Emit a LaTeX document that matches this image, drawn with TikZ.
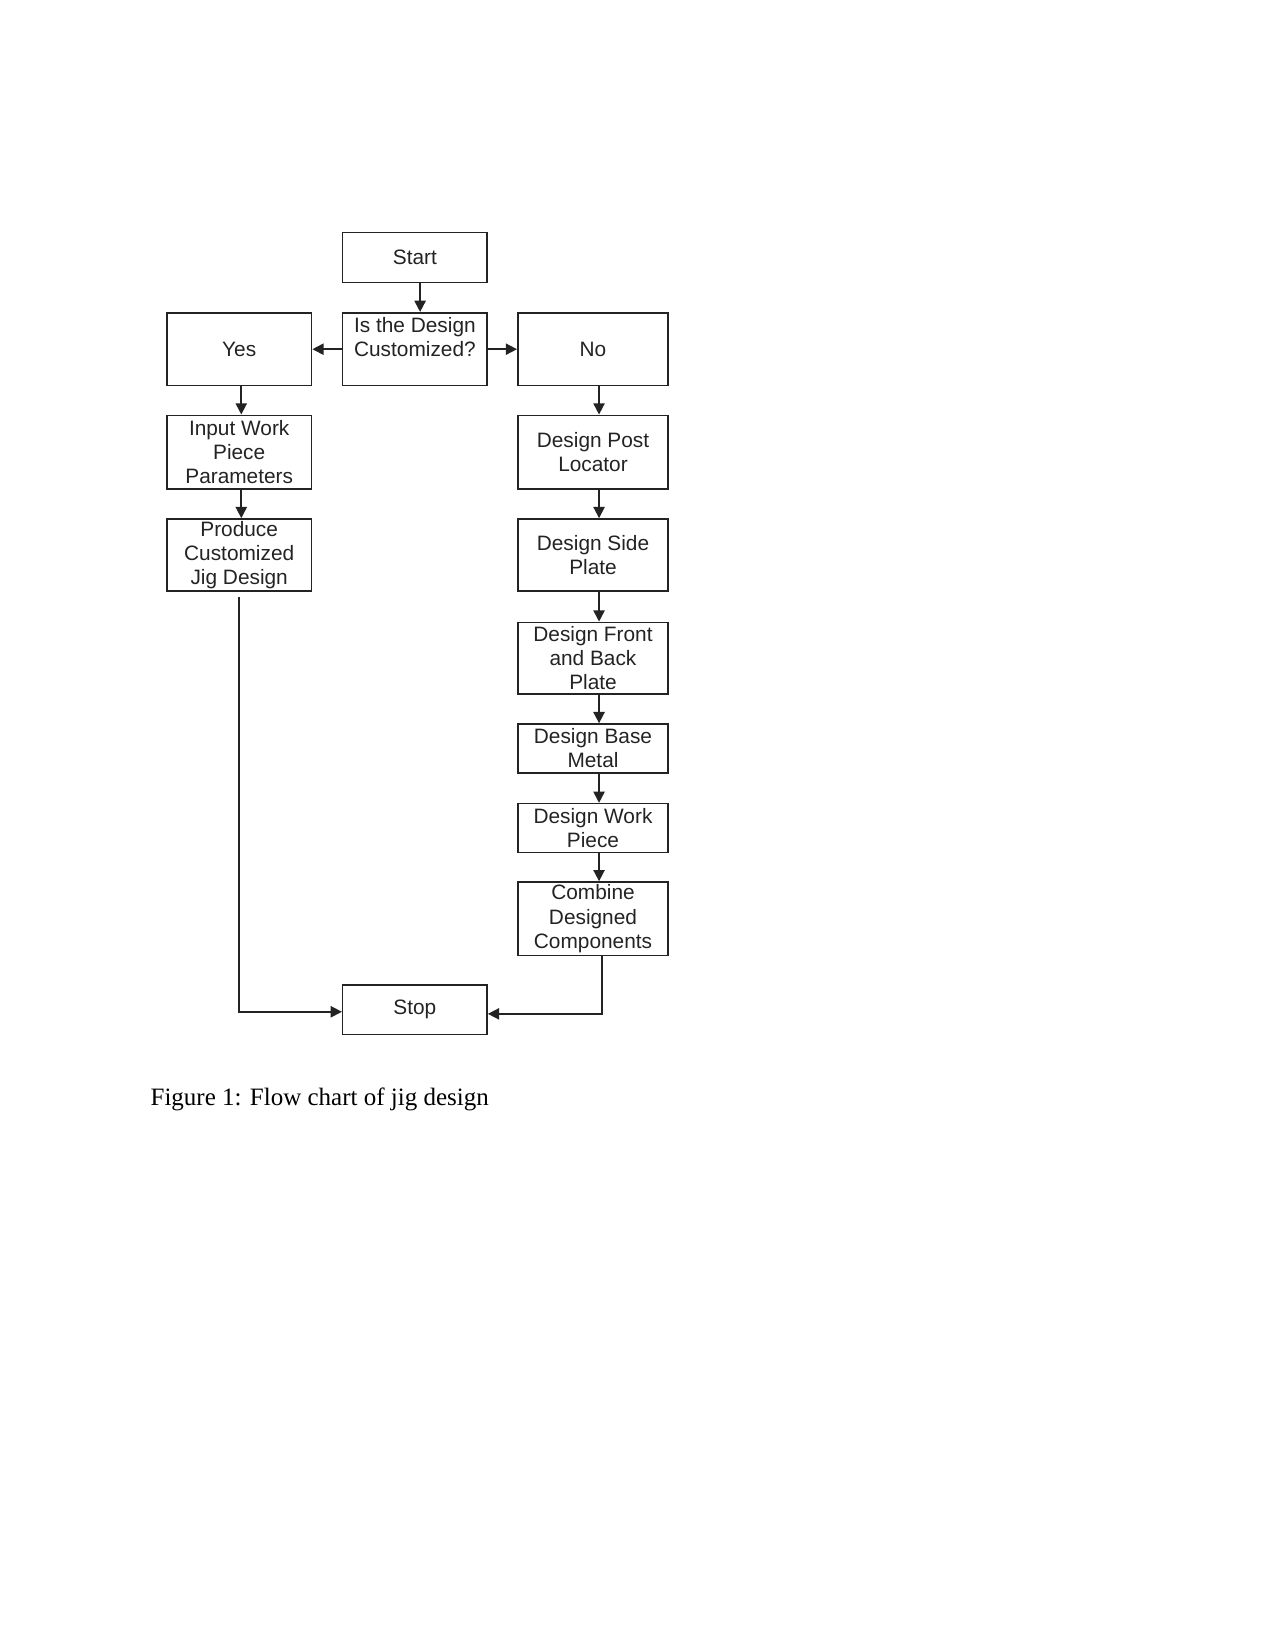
\documentclass[tikz,border=0pt]{standalone}
\usepackage{fontspec}
\setmainfont{Liberation Serif}
\setsansfont{Liberation Sans}
\usepackage{tikz}
\usetikzlibrary{arrows.meta}
\definecolor{boxink}{RGB}{35,35,35}

\begin{document}
\begin{tikzpicture}[x=0.48pt, y=-0.48pt,
    stepbox/.style={draw=boxink, line width=0.75pt, text=boxink, align=center, inner sep=0pt,
        minimum width=69.3pt, font=\sffamily\fontsize{10}{11.6}\selectfont},
    flow/.style={-{Triangle[length=5.4pt, width=5.4pt]}, line width=0.8pt, draw=boxink}]
    \useasboundingbox (0,0) rectangle (1275,1650);

    % decision
    \node[stepbox, minimum height=24pt] (start) at (414.9,257.7) {Start};
    \node[stepbox, minimum height=35pt] (query) at (414.9,349.2) {Is the Design\\Customized?\\\mbox{}};
    \node[stepbox, minimum height=35pt, minimum width=69.5pt] (yes) at (239.2,349.2) {Yes};
    \node[stepbox, minimum height=35pt, minimum width=72.2pt] (no) at (593,349.2) {No};

    % customized branch
    \node[stepbox, minimum height=35.5pt, minimum width=69.5pt] (input) at (239.2,452.3) {Input Work\\Piece\\Parameters};
    \node[stepbox, minimum height=34.6pt, minimum width=69.5pt] (produce) at (239.2,555) {Produce\\Customized\\Jig Design};

    % standard branch
    \node[stepbox, minimum height=35.5pt, minimum width=72.2pt] (post) at (593,452.3) {Design Post\\Locator};
    \node[stepbox, minimum height=34.6pt, minimum width=72.2pt] (side) at (593,555) {Design Side\\Plate};
    \node[stepbox, minimum height=34.4pt, minimum width=72.2pt] (front) at (593,658.2) {Design Front\\and Back\\Plate};
    \node[stepbox, minimum height=23.4pt, minimum width=72.2pt] (base) at (593,748.4) {Design Base\\Metal};
    \node[stepbox, minimum height=23.4pt, minimum width=72.2pt] (work) at (593,828) {Design Work\\Piece};
    \node[stepbox, minimum height=35.2pt, minimum width=72.2pt] (combine) at (593,918.7) {Combine\\Designed\\Components};

    \node[stepbox, minimum height=23.7pt] (stop) at (414.9,1009.7) {Stop};

    \draw[flow] ([xshift=2.5pt]start.south) -- ([xshift=2.5pt]query.north);
    \draw[flow] (query.west) -- (yes.east);
    \draw[flow] (query.east) -- (no.west);
    \draw[flow] ([xshift=1pt]yes.south) -- ([xshift=1pt]input.north);
    \draw[flow] ([xshift=1pt]input.south) -- ([xshift=1pt]produce.north);
    \draw[flow] ([xshift=2.9pt]no.south) -- ([xshift=2.9pt]post.north);
    \draw[flow] ([xshift=2.9pt]post.south) -- ([xshift=2.9pt]side.north);
    \draw[flow] ([xshift=2.9pt]side.south) -- ([xshift=2.9pt]front.north);
    \draw[flow] ([xshift=2.9pt]front.south) -- ([xshift=2.9pt]base.north);
    \draw[flow] ([xshift=2.9pt]base.south) -- ([xshift=2.9pt]work.north);
    \draw[flow] ([xshift=2.9pt]work.south) -- ([xshift=2.9pt]combine.north);
    \draw[flow, shorten <=2.5pt] (produce.south) |- ([yshift=-1pt]stop.west);
    \draw[flow] ([xshift=4.2pt]combine.south) |- ([yshift=-2pt]stop.east);

    \node[anchor=base west, inner sep=0pt, font=\fontsize{12}{14}\selectfont] (caption) at (150.2,1105) {Figure 1: Flow chart of jig design};
\end{tikzpicture}
\end{document}
